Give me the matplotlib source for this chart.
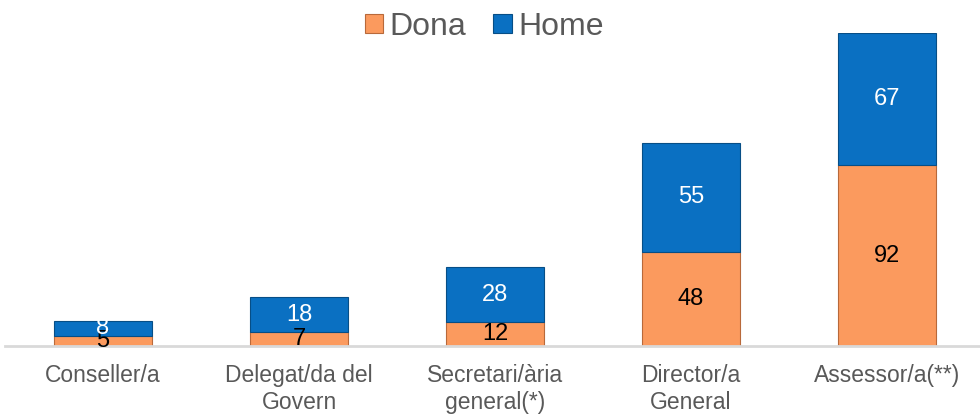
import numpy as np
import matplotlib.pyplot as plt

plt.rcParams['font.family'] = ['Liberation Sans', 'DejaVu Sans']

# Dades
categories = ['Conseller/a', 'Delegat/da del\nGovern', 'Secretari/ària\ngeneral(*)',
              'Director/a\nGeneral', 'Assessor/a(**)']
dona = np.array([5, 7, 12, 48, 92])
home = np.array([8, 18, 28, 55, 67])

col_dona = '#FB9A5E'
col_home = '#0A70C2'
gris = '#595959'

fig = plt.figure(figsize=(9.8, 4.19), dpi=100)
ax = fig.add_axes([5 / 980, 0.174, 1.0, 0.747])

x = np.arange(len(categories))
amplada = 0.5
ax.bar(x, dona, amplada, color=col_dona, edgecolor='#B8693A', linewidth=0.8, label='Dona')
ax.bar(x, home, amplada, bottom=dona, color=col_home, edgecolor='#074E86', linewidth=0.8, label='Home')

# Etiquetes de valors
for i in range(len(x)):
    ax.text(x[i], dona[i] / 2, str(dona[i]), ha='center', va='center', fontsize=17, color='black')
    ax.text(x[i], dona[i] + home[i] / 2, str(home[i]), ha='center', va='center', fontsize=17, color='white')

ax.set_xlim(-0.5, 4.5)
ax.set_ylim(0, 159)
ax.set_xticks(x)
ax.set_xticklabels(categories, fontsize=16.5, color=gris, linespacing=1.2)
ax.tick_params(axis='x', length=0, pad=13)
ax.set_yticks([])
for s in ['top', 'right', 'left']:
    ax.spines[s].set_visible(False)
ax.spines['bottom'].set_color('#D9D9D9')
ax.spines['bottom'].set_linewidth(2)

leg = fig.legend(loc='center', bbox_to_anchor=(0.494, 0.936), ncol=2, frameon=False,
                 fontsize=23, handlelength=0.58, handleheight=0.58, handletextpad=0.2,
                 columnspacing=0.85)
for t in leg.get_texts():
    t.set_color(gris)

plt.savefig('out.png', dpi=100)
